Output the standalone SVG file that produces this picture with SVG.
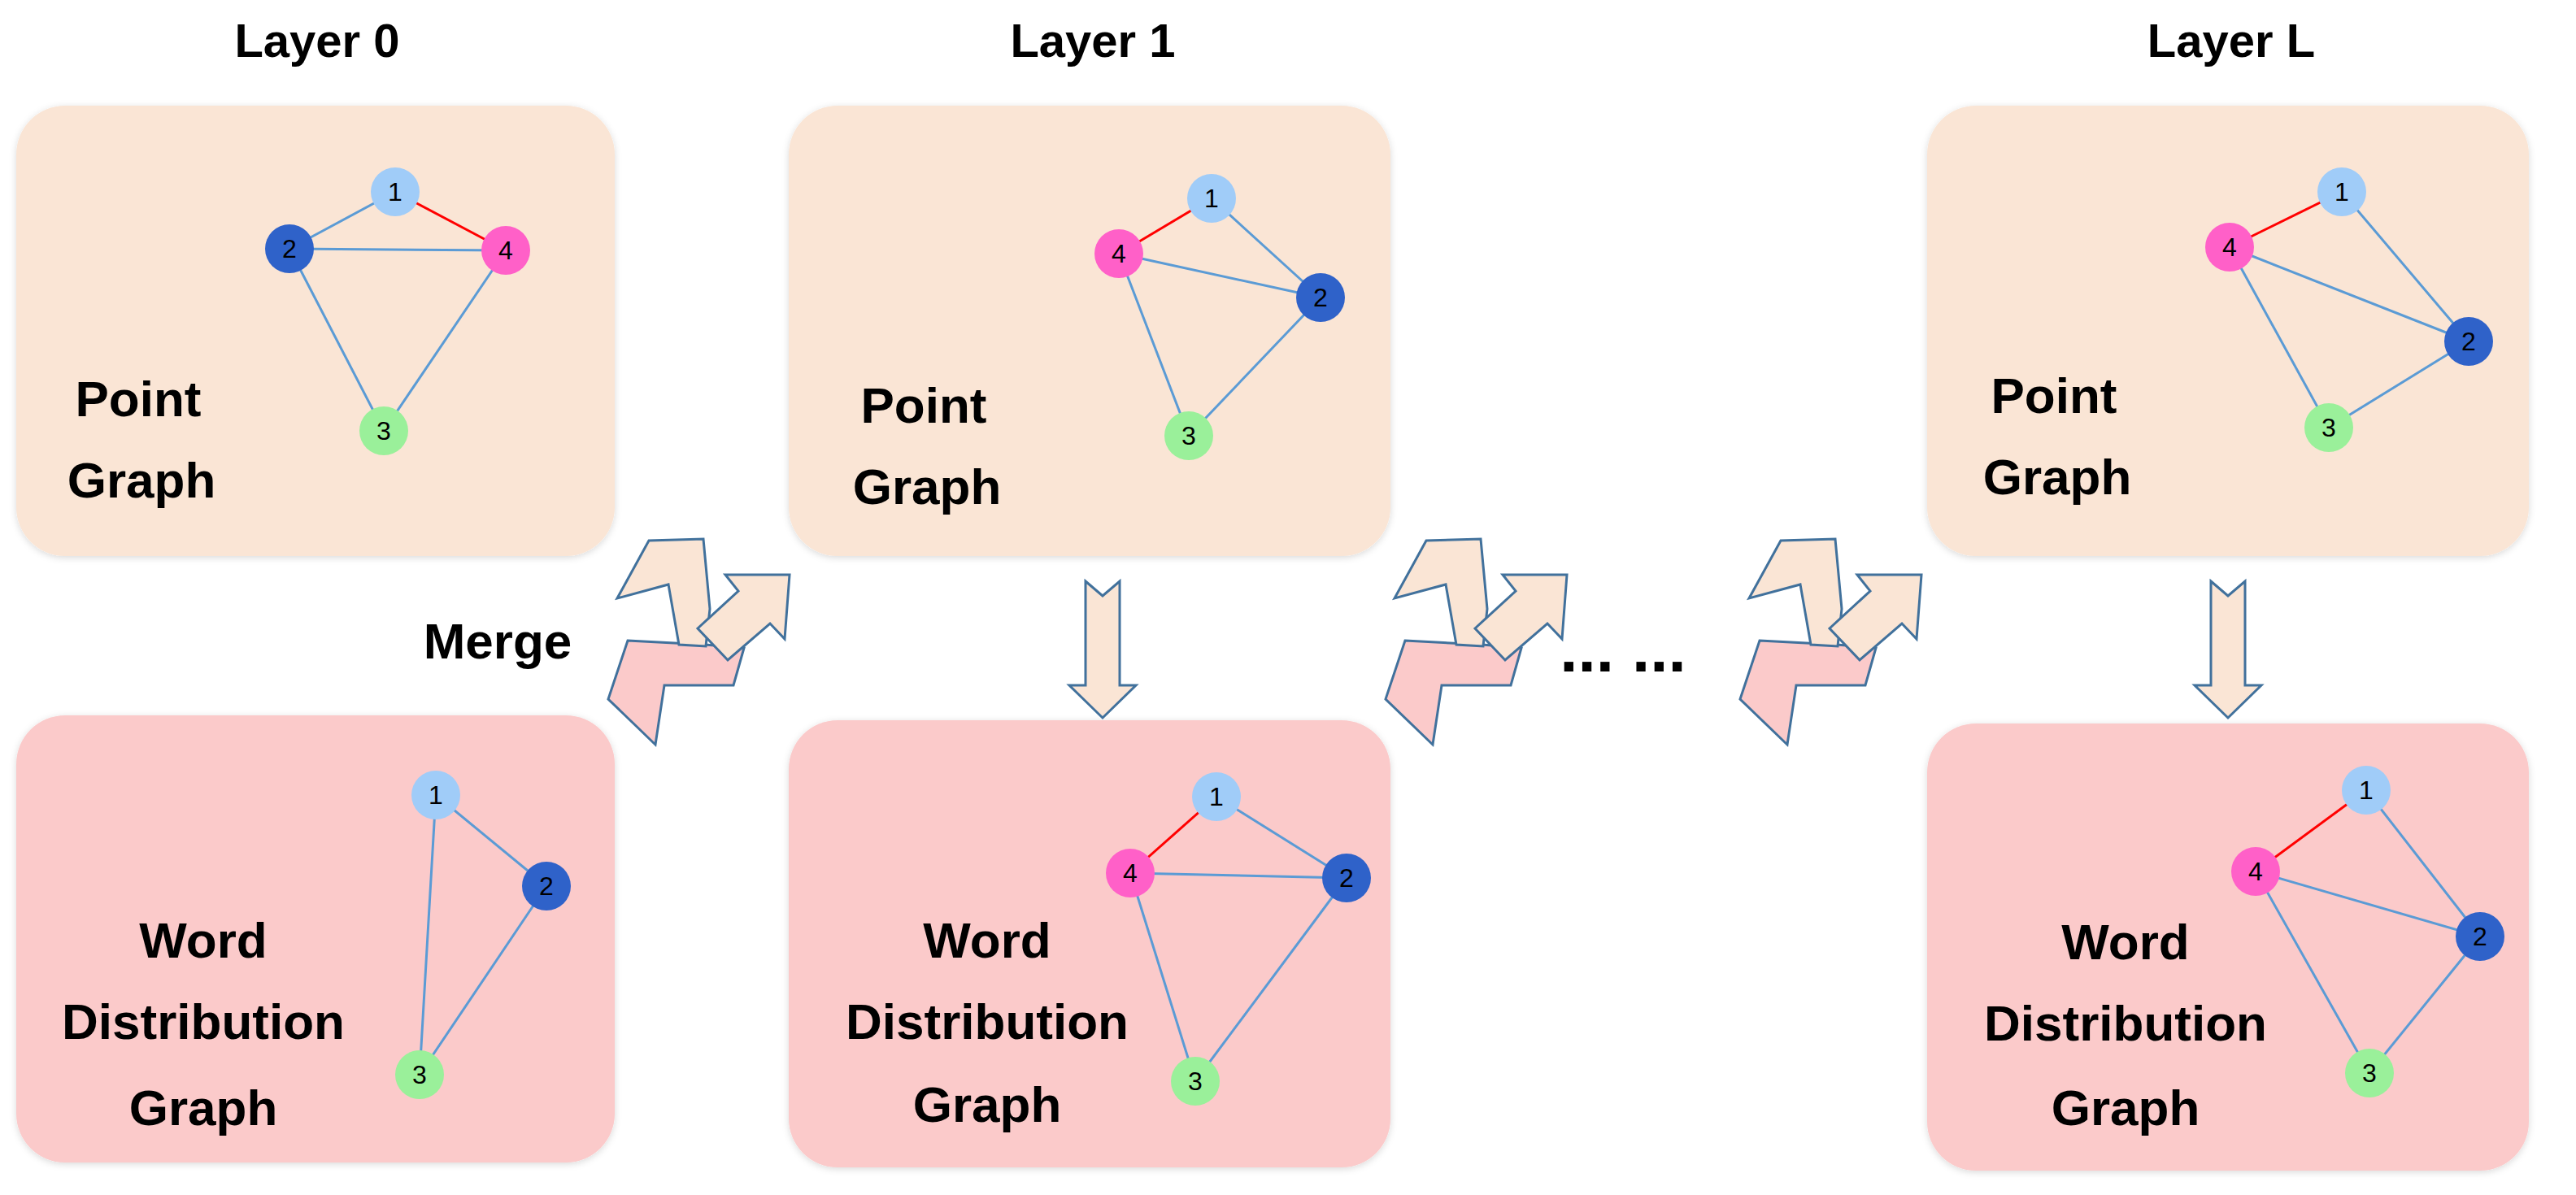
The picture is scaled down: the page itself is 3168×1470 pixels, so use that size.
<svg xmlns="http://www.w3.org/2000/svg" width="3168" height="1470" viewBox="0 0 3168 1470">
<defs>
<style>
.t{font-family:"Liberation Sans",Arial,sans-serif;font-weight:bold;fill:#000;text-anchor:middle}
.lb{font-size:58px}
.lab{font-size:62px}
.pt{fill:#FAE5D5}
.wd{fill:#FBCACA}
.e{stroke:#5B9BD5;stroke-width:3;fill:none}
.r{stroke:#FF0000;stroke-width:3;fill:none}
.n{font-family:"Liberation Sans",Arial,sans-serif;font-size:32px;fill:#000;text-anchor:middle}
.c1{fill:#A0CCF8}.c2{fill:#2F62C9}.c3{fill:#9AF09A}.c4{fill:#FF60C8}
.ar{stroke:#41719C;stroke-width:3;stroke-linejoin:miter}
</style>
<filter id="sh" x="-5%" y="-5%" width="110%" height="110%"><feDropShadow dx="0" dy="2" stdDeviation="4" flood-color="#000" flood-opacity="0.15"/></filter>
<g id="merge">
<polygon class="ar wd" points="772,788 867,793 915,797 902,843 817,843 806,916 748,860"/>
<polygon class="ar pt" points="759,736 798,665 865,663 873,749 868,795 835,793 822,719"/>
<polygon class="ar pt" points="858,773 908,727 892,707 971,707 965,786 947,767 895,812"/>
</g>
<polygon id="down" class="ar pt" points="1335,715 1356,733 1377,715 1377,843 1397,843 1356,883 1315,843 1335,843"/>
</defs>
<rect width="3168" height="1470" fill="#fff"/>
<g id="titles">
<text class="t lb" x="390" y="70">Layer 0</text>
<text class="t lb" x="1344" y="70">Layer 1</text>
<text class="t lb" x="2744" y="70">Layer L</text>
</g>
<g id="box-point-0" filter="url(#sh)"><rect class="pt" x="20" y="130" width="736" height="554" rx="60"/></g>
<g id="box-word-0" filter="url(#sh)"><rect class="wd" x="20" y="880" width="736" height="550" rx="60"/></g>
<g id="box-point-1" filter="url(#sh)"><rect class="pt" x="970" y="130" width="740" height="554" rx="60"/></g>
<g id="box-word-1" filter="url(#sh)"><rect class="wd" x="970" y="886" width="740" height="550" rx="60"/></g>
<g id="box-point-L" filter="url(#sh)"><rect class="pt" x="2370" y="130" width="740" height="554" rx="60"/></g>
<g id="box-word-L" filter="url(#sh)"><rect class="wd" x="2370" y="890" width="740" height="550" rx="60"/></g>
<g id="labels">
<text class="t lab" x="170" y="512">Point</text><text class="t lab" x="174" y="612">Graph</text>
<text class="t lab" x="1136" y="520">Point</text><text class="t lab" x="1140" y="620">Graph</text>
<text class="t lab" x="2526" y="508">Point</text><text class="t lab" x="2530" y="608">Graph</text>
<text class="t lab" x="250" y="1178">Word</text><text class="t lab" x="250" y="1278">Distribution</text><text class="t lab" x="250" y="1384">Graph</text>
<text class="t lab" x="1214" y="1178">Word</text><text class="t lab" x="1214" y="1278">Distribution</text><text class="t lab" x="1214" y="1380">Graph</text>
<text class="t lab" x="2614" y="1180">Word</text><text class="t lab" x="2614" y="1280">Distribution</text><text class="t lab" x="2614" y="1384">Graph</text>
<text class="t lab" x="612" y="810">Merge</text>
<text class="t" style="font-size:80px" x="1996" y="826">... ...</text>
</g>
<g id="connectors">
<use href="#merge"/>
<use href="#merge" x="956"/>
<use href="#merge" x="1392"/>
<use href="#down"/>
<use href="#down" x="1384"/>
<path class="e" d="M486,236 L356,306 M356,306 L622,308 M356,306 L472,530 M622,308 L472,530"/>
<path class="r" d="M486,236 L622,308"/>
<path class="e" d="M536,978 L672,1090 M536,978 L516,1322 M672,1090 L516,1322"/>
<path class="r" d="M1376,312 L1490,244"/>
<path class="e" d="M1490,244 L1624,366 M1376,312 L1624,366 M1376,312 L1462,536 M1624,366 L1462,536"/>
<path class="r" d="M1390,1074 L1496,980"/>
<path class="e" d="M1496,980 L1656,1080 M1390,1074 L1656,1080 M1390,1074 L1470,1330 M1656,1080 L1470,1330"/>
<path class="r" d="M2742,304 L2880,236"/>
<path class="e" d="M2880,236 L3036,420 M2742,304 L3036,420 M2742,304 L2864,526 M2864,526 L3036,420"/>
<path class="r" d="M2774,1072 L2910,972"/>
<path class="e" d="M2910,972 L3050,1152 M2774,1072 L3050,1152 M2774,1072 L2914,1320 M2914,1320 L3050,1152"/>
</g>
<g id="nodes">
<g id="n0-1"><circle class="c1" cx="486" cy="236" r="30"/><text class="n" x="486" y="247">1</text></g>
<g id="n0-2"><circle class="c2" cx="356" cy="306" r="30"/><text class="n" x="356" y="317">2</text></g>
<g id="n0-4"><circle class="c4" cx="622" cy="308" r="30"/><text class="n" x="622" y="319">4</text></g>
<g id="n0-3"><circle class="c3" cx="472" cy="530" r="30"/><text class="n" x="472" y="541">3</text></g>
<g id="w0-1"><circle class="c1" cx="536" cy="978" r="30"/><text class="n" x="536" y="989">1</text></g>
<g id="w0-2"><circle class="c2" cx="672" cy="1090" r="30"/><text class="n" x="672" y="1101">2</text></g>
<g id="w0-3"><circle class="c3" cx="516" cy="1322" r="30"/><text class="n" x="516" y="1333">3</text></g>
<g id="n1-1"><circle class="c1" cx="1490" cy="244" r="30"/><text class="n" x="1490" y="255">1</text></g>
<g id="n1-4"><circle class="c4" cx="1376" cy="312" r="30"/><text class="n" x="1376" y="323">4</text></g>
<g id="n1-2"><circle class="c2" cx="1624" cy="366" r="30"/><text class="n" x="1624" y="377">2</text></g>
<g id="n1-3"><circle class="c3" cx="1462" cy="536" r="30"/><text class="n" x="1462" y="547">3</text></g>
<g id="w1-1"><circle class="c1" cx="1496" cy="980" r="30"/><text class="n" x="1496" y="991">1</text></g>
<g id="w1-4"><circle class="c4" cx="1390" cy="1074" r="30"/><text class="n" x="1390" y="1085">4</text></g>
<g id="w1-2"><circle class="c2" cx="1656" cy="1080" r="30"/><text class="n" x="1656" y="1091">2</text></g>
<g id="w1-3"><circle class="c3" cx="1470" cy="1330" r="30"/><text class="n" x="1470" y="1341">3</text></g>
<g id="nL-1"><circle class="c1" cx="2880" cy="236" r="30"/><text class="n" x="2880" y="247">1</text></g>
<g id="nL-4"><circle class="c4" cx="2742" cy="304" r="30"/><text class="n" x="2742" y="315">4</text></g>
<g id="nL-2"><circle class="c2" cx="3036" cy="420" r="30"/><text class="n" x="3036" y="431">2</text></g>
<g id="nL-3"><circle class="c3" cx="2864" cy="526" r="30"/><text class="n" x="2864" y="537">3</text></g>
<g id="wL-1"><circle class="c1" cx="2910" cy="972" r="30"/><text class="n" x="2910" y="983">1</text></g>
<g id="wL-4"><circle class="c4" cx="2774" cy="1072" r="30"/><text class="n" x="2774" y="1083">4</text></g>
<g id="wL-2"><circle class="c2" cx="3050" cy="1152" r="30"/><text class="n" x="3050" y="1163">2</text></g>
<g id="wL-3"><circle class="c3" cx="2914" cy="1320" r="30"/><text class="n" x="2914" y="1331">3</text></g>
</g>
</svg>
